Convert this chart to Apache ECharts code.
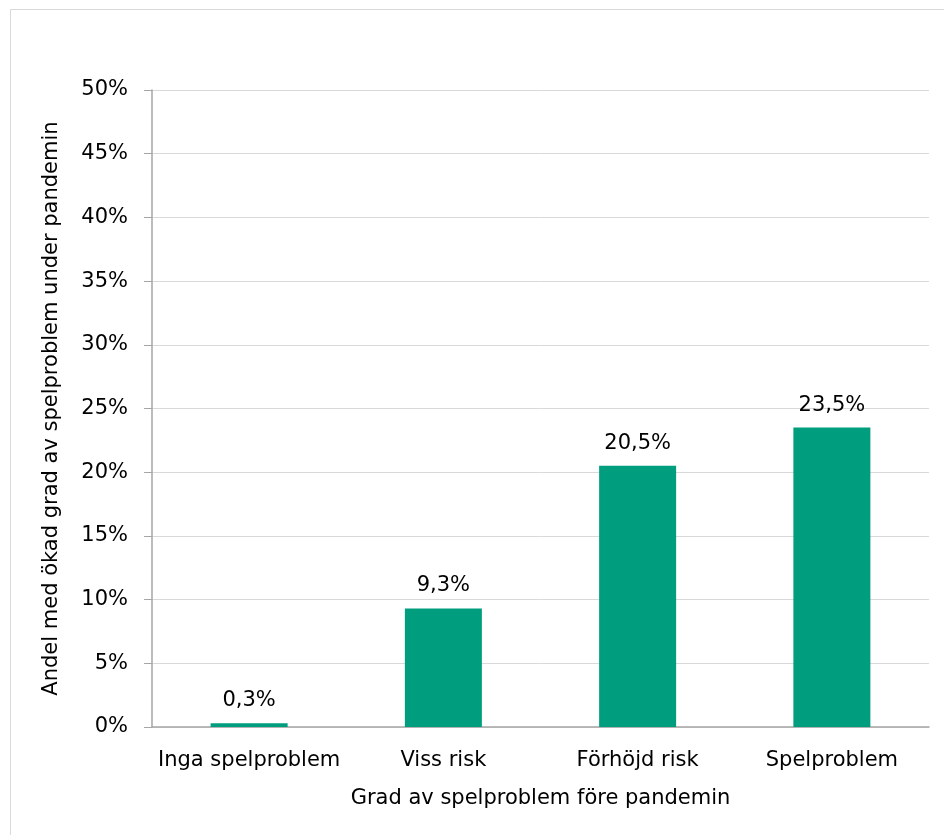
<!DOCTYPE html>
<html>
<head>
<meta charset="utf-8">
<script src="https://cdn.jsdelivr.net/npm/echarts@6/dist/echarts.min.js"></script>
<style>
html,body{margin:0;padding:0;background:#fff;}
#chart{width:944px;height:835px;}
</style>
</head>
<body>
<div id="chart"></div>
<script>
const categories = ['Inga spelproblem', 'Viss risk', 'Förhöjd risk', 'Spelproblem'];
const values = [0.3, 9.3, 20.5, 23.5];
const yTicks = [0, 5, 10, 15, 20, 25, 30, 35, 40, 45, 50];
const xTitle = 'Grad av spelproblem före pandemin';
const yTitle = 'Andel med ökad grad av spelproblem under pandemin';

const FONT = 'DejaVu Sans';
const chart = echarts.init(document.getElementById('chart'), null, {renderer: 'canvas'});
chart.setOption({
  animation: false,
  backgroundColor: '#ffffff',
  textStyle: {fontFamily: FONT},
  graphic: [{
    type: 'rect',
    shape: {x: 10.5, y: 9.5, width: 2000, height: 2000},
    style: {fill: 'none', stroke: '#d9d9d9', lineWidth: 1},
    silent: true
  }],
  grid: {left: 152, right: 15, top: 90, bottom: 108, containLabel: false},
  xAxis: {
    type: 'category',
    data: categories,
    name: xTitle,
    nameLocation: 'middle',
    nameGap: 61,
    nameTextStyle: {fontFamily: FONT, fontSize: 21, color: '#000'},
    axisLine: {lineStyle: {color: '#a6a6a6', width: 1.5}},
    axisTick: {show: false},
    axisLabel: {fontFamily: FONT, fontSize: 21, color: '#000', margin: 23, interval: 0}
  },
  yAxis: {
    type: 'value',
    min: yTicks[0],
    max: yTicks[yTicks.length - 1],
    interval: yTicks[1] - yTicks[0],
    name: yTitle,
    nameLocation: 'middle',
    nameGap: 90,
    nameRotate: 90,
    nameTextStyle: {fontFamily: FONT, fontSize: 21, color: '#000'},
    axisLine: {show: true, lineStyle: {color: '#a6a6a6', width: 1.5}},
    axisTick: {show: true, length: 8, lineStyle: {color: '#a6a6a6', width: 1}},
    axisLabel: {fontFamily: FONT, fontSize: 21, color: '#000', margin: 24,
      padding: [4, 0, 0, 0],
      formatter: v => v + '%'},
    splitLine: {show: true, lineStyle: {color: '#d9d9d9', width: 1}}
  },
  series: [{
    type: 'bar',
    data: values,
    barWidth: 77,
    itemStyle: {color: '#009e7e'},
    label: {
      show: true,
      position: 'top',
      distance: 12,
      fontFamily: FONT,
      fontSize: 21,
      color: '#000',
      formatter: p => String(p.value).replace('.', ',') + '%'
    }
  }]
});
</script>
</body>
</html>
